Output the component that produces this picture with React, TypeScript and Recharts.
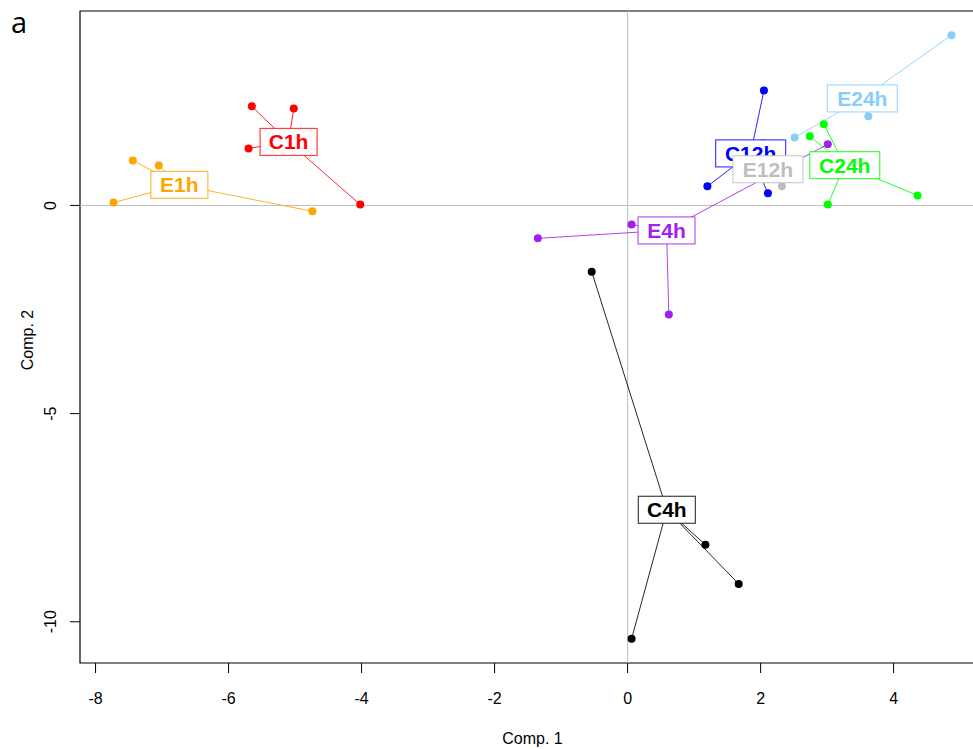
import React from 'react';
import { ComposedChart, XAxis, YAxis, Line, Scatter, ReferenceLine, ReferenceArea, Label } from 'recharts';

const groupNames = ['C1h', 'E1h', 'C4h', 'E4h', 'C12h', 'E12h', 'C24h', 'E24h'];
const groupColors = ['#FF0000', '#FFA500', '#000000', '#A020F0', '#0000FF', '#BEBEBE', '#00FF00', '#87CEFA'];

const c1hComp1 = [-5.65, -5.02, -5.70, -4.02];
const c1hComp2 = [2.38, 2.33, 1.37, 0.02];
const e1hComp1 = [-7.44, -7.05, -7.73, -4.74];
const e1hComp2 = [1.08, 0.96, 0.07, -0.14];
const c4hComp1 = [-0.54, 1.17, 1.67, 0.06];
const c4hComp2 = [-1.59, -8.15, -9.09, -10.41];
const e4hComp1 = [-1.35, 0.06, 0.62, 3.01];
const e4hComp2 = [-0.79, -0.46, -2.62, 1.47];
const c12hComp1 = [2.05, 1.20, 2.11, 2.04];
const c12hComp2 = [2.76, 0.46, 0.29, 1.49];
const e12hComp1 = [2.32, 1.95, 2.15, 2.02];
const e12hComp2 = [0.46, 1.05, 1.10, 0.87];
const c24hComp1 = [2.95, 2.74, 3.01, 4.36];
const c24hComp2 = [1.95, 1.66, 0.02, 0.24];
const e24hComp1 = [4.87, 3.62, 2.51, 3.12];
const e24hComp2 = [4.09, 2.14, 1.63, 2.42];

const xTicks = [-8, -6, -4, -2, 0, 2, 4];
const yTicks = [-10, -5, 0];
const xDomain: [number, number] = [-8.234, 5.374];
const yDomain: [number, number] = [-10.99, 4.67];

const comp1Sets = [c1hComp1, e1hComp1, c4hComp1, e4hComp1, c12hComp1, e12hComp1, c24hComp1, e24hComp1];
const comp2Sets = [c1hComp2, e1hComp2, c4hComp2, e4hComp2, c12hComp2, e12hComp2, c24hComp2, e24hComp2];

const mean = (a: number[]) => a.reduce((s, v) => s + v, 0) / a.length;

const groups = groupNames.map((name, i) => {
  const pts = comp1Sets[i].map((x, j) => ({ x, y: comp2Sets[i][j] }));
  const center = { x: mean(comp1Sets[i]), y: mean(comp2Sets[i]), name, color: groupColors[i] };
  return { name, color: groupColors[i], pts, center };
});

const FONT = '"Liberation Sans", Arial, sans-serif';

const YTick = (props: any) => {
  const { x, y, payload } = props;
  return (
    <text x={x} y={y} transform={`rotate(-90 ${x} ${y})`} textAnchor="middle" fontFamily={FONT} fontSize={16} fill="#000">
      {payload.value}
    </text>
  );
};

const LabelBox = (props: any) => {
  const { cx, cy, payload } = props;
  const w = payload.name.length === 3 ? 57 : 70;
  const h = 27;
  return (
    <g>
      <rect x={cx - w / 2} y={cy - h / 2} width={w} height={h} fill="#fff" stroke={payload.color} strokeOpacity={0.75} strokeWidth={1.2} />
      <text x={cx} y={cy + 7.5} textAnchor="middle" fontFamily={FONT} fontWeight="bold" fontSize={21} fill={payload.color}>
        {payload.name}
      </text>
    </g>
  );
};

export default function App() {
  return (
    <div style={{ position: 'absolute', left: 0, top: 0, width: 973, height: 749, overflow: 'hidden', background: '#fff' }}>
      <div style={{ position: 'absolute', left: 11, top: 2, fontFamily: '"Open Sans", sans-serif', fontSize: 29, color: '#000' }}>a</div>
      <ComposedChart width={992} height={749} margin={{ top: 11, right: 7, bottom: 0, left: 0 }}>
        <XAxis
          type="number"
          dataKey="x"
          domain={xDomain}
          ticks={xTicks}
          allowDataOverflow
          axisLine={false}
          tickLine={{ stroke: '#000' }}
          tickSize={10}
          tickMargin={20}
          height={86}
          tick={{ fontFamily: FONT, fontSize: 16, fill: '#000' }}
        >
          <Label
            content={(p: any) => {
              const vb = p.viewBox;
              return (
                <text x={vb.x + vb.width / 2} y={744} textAnchor="middle" fontFamily={FONT} fontSize={16} fill="#000">
                  Comp. 1
                </text>
              );
            }}
          />
        </XAxis>
        <YAxis
          type="number"
          dataKey="y"
          domain={yDomain}
          ticks={yTicks}
          allowDataOverflow
          axisLine={false}
          tickLine={{ stroke: '#000' }}
          tickSize={10}
          tickMargin={14}
          width={80}
          tick={<YTick />}
        >
          <Label
            content={() => (
              <text x={33} y={340} transform="rotate(-90 33 340)" textAnchor="middle" fontFamily={FONT} fontSize={16} fill="#000">
                Comp. 2
              </text>
            )}
          />
        </YAxis>
        <ReferenceLine x={0} stroke="#BEBEBE" strokeWidth={1} />
        <ReferenceLine y={0} stroke="#BEBEBE" strokeWidth={1} />
        {groups.flatMap((g) =>
          g.pts.map((p, j) => (
            <Line
              key={`${g.name}-l${j}`}
              data={[{ x: g.center.x, y: g.center.y }, p]}
              dataKey="y"
              stroke={g.color}
              strokeOpacity={0.85}
              strokeWidth={1}
              dot={false}
              activeDot={false}
              isAnimationActive={false}
              legendType="none"
            />
          ))
        )}
        {groups.map((g) => (
          <Scatter
            key={`${g.name}-pts`}
            data={g.pts}
            dataKey="y"
            isAnimationActive={false}
            shape={(p: any) => <circle cx={p.cx} cy={p.cy} r={4} fill={g.color} />}
          />
        ))}
        <Scatter
          data={groups.map((g) => g.center)}
          dataKey="y"
          isAnimationActive={false}
          shape={(p: any) => <LabelBox {...p} />}
        />
        <ReferenceArea x1={xDomain[0]} x2={xDomain[1]} y1={yDomain[0]} y2={yDomain[1]} fill="none" fillOpacity={0} stroke="#000" strokeWidth={1.2} />
      </ComposedChart>
    </div>
  );
}
